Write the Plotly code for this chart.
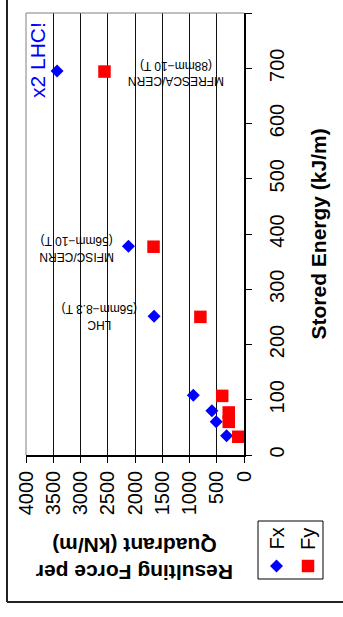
import plotly.graph_objects as go

# ---- data ----
energy_fx = [35, 60, 80, 108, 251, 378, 695]      # Stored energy (kJ/m)
fx = [320, 510, 590, 930, 1650, 2120, 3430]        # Fx (kN/m)
energy_fy = [33, 60, 77, 107, 250, 377, 694]
fy = [105, 280, 280, 400, 800, 1660, 2560]         # Fy (kN/m)
force_ticks = [0, 500, 1000, 1500, 2000, 2500, 3000, 3500, 4000]
energy_ticks = [0, 100, 200, 300, 400, 500, 600, 700, 800]

labels = ["MFRESCA/CERN<br>(88mm\u221210 T)", "MFISC/CERN<br>(56mm\u221210 T)", "LHC<br>(56mm\u22128.3 T)"]
label_force = [1248, 3064, 2642]
label_energy = [691, 374, 251]

W, H = 343, 617
FONT = "Liberation Sans, Arial, sans-serif"


def px(x):
    return x / W


def py(y):
    return 1 - y / H


fig = go.Figure()
fig.add_trace(go.Scatter(x=fx, y=energy_fx, mode="markers", name="Fx",
                         marker=dict(symbol="diamond", size=10, color="#0000FF"),
                         cliponaxis=False))
fig.add_trace(go.Scatter(x=fy, y=energy_fy, mode="markers", name="Fy",
                         marker=dict(symbol="square", size=12.5, color="#FF0000"),
                         cliponaxis=False))

# legend keys (drawn on a pixel-space helper axis)
fig.add_trace(go.Scatter(x=[276.5], y=[566], mode="markers", xaxis="x2", yaxis="y2",
                         marker=dict(symbol="diamond", size=10, color="#0000FF"),
                         hoverinfo="skip", cliponaxis=False))
fig.add_trace(go.Scatter(x=[308], y=[566], mode="markers", xaxis="x2", yaxis="y2",
                         marker=dict(symbol="square", size=12.5, color="#FF0000"),
                         hoverinfo="skip", cliponaxis=False))

annotations = []
for t, xv, yv in zip(labels, label_force, label_energy):
    annotations.append(dict(x=xv, y=yv, xref="x", yref="y", text=t, showarrow=False,
                            textangle=180, font=dict(family=FONT, size=12, color="black"),
                            xanchor="center", yanchor="middle"))
annotations.append(dict(x=3789, y=714, xref="x", yref="y", text="x2 LHC!", showarrow=False,
                        textangle=-90, font=dict(family=FONT, size=21, color="#0000FF"),
                        xanchor="center", yanchor="middle"))
annotations.append(dict(x=px(318), y=py(234.5), xref="paper", yref="paper",
                        text="<b>Stored Energy (kJ/m)</b>", showarrow=False, textangle=-90,
                        font=dict(family=FONT, size=21, color="black"),
                        xanchor="center", yanchor="middle"))
annotations.append(dict(x=px(135), y=py(559), xref="paper", yref="paper",
                        text="<b>Resulting Force per<br>Quadrant (kN/m)</b>", showarrow=False,
                        textangle=180, font=dict(family=FONT, size=21, color="black"),
                        xanchor="center", yanchor="middle"))
annotations.append(dict(x=px(276.5), y=py(539), xref="paper", yref="paper", text="Fx",
                        showarrow=False, textangle=-90, font=dict(family=FONT, size=20, color="black"),
                        xanchor="center", yanchor="middle"))
annotations.append(dict(x=px(308), y=py(539), xref="paper", yref="paper", text="Fy",
                        showarrow=False, textangle=-90, font=dict(family=FONT, size=20, color="black"),
                        xanchor="center", yanchor="middle"))

shapes = [
    # legend box
    dict(type="rect", xref="paper", yref="paper", x0=px(258), x1=px(323), y0=py(579), y1=py(521),
         line=dict(color="black", width=1), fillcolor="rgba(0,0,0,0)", layer="below"),
    # outer frame (left and bottom)
    dict(type="line", xref="paper", yref="paper", x0=px(7), x1=px(7), y0=py(602), y1=1.05,
         line=dict(color="#222", width=2)),
    dict(type="line", xref="paper", yref="paper", x0=px(7), x1=1.05, y0=py(602), y1=py(602),
         line=dict(color="#222", width=2)),
    # plot area border (top & left, gray)
    dict(type="line", xref="paper", yref="paper", x0=px(26), x1=px(244), y0=py(13), y1=py(13),
         line=dict(color="#808080", width=1)),
    dict(type="line", xref="paper", yref="paper", x0=px(26), x1=px(26), y0=py(13), y1=py(455),
         line=dict(color="#808080", width=1)),
]

fig.update_layout(
    width=W, height=H,
    margin=dict(l=0, r=0, t=0, b=0, autoexpand=False),
    paper_bgcolor="white", plot_bgcolor="rgba(0,0,0,0)",
    showlegend=False,
    font=dict(family=FONT, color="black"),
    xaxis=dict(domain=[px(26), px(244)], range=[4000, 0], tickvals=force_ticks,
               ticktext=[str(v) for v in force_ticks], tickangle=-90,
               tickfont=dict(size=20, family=FONT, color="black"),
               ticks="outside", ticklen=6, tickcolor="black",
               showgrid=True, gridcolor="#111", gridwidth=1, zeroline=False,
               showline=True, linecolor="black", linewidth=1.5, automargin=False,
               anchor="y", side="bottom"),
    yaxis=dict(domain=[py(455), py(13)], range=[0, 800], tickvals=energy_ticks,
               ticktext=[str(v) for v in energy_ticks], tickangle=-90,
               tickfont=dict(size=20, family=FONT, color="black"),
               ticks="outside", ticklen=6, tickcolor="black", ticklabelstandoff=8,
               showgrid=False, zeroline=False, side="right",
               showline=True, linecolor="black", linewidth=1.5, automargin=False,
               anchor="x"),
    xaxis2=dict(domain=[0, 1], range=[0, W], visible=False, anchor="y2", fixedrange=True),
    yaxis2=dict(domain=[0, 1], range=[H, 0], visible=False, anchor="x2", fixedrange=True),
    annotations=annotations,
    shapes=shapes,
)

fig.write_html("out.html", config={"displayModeBar": False},
               post_script="document.body.style.margin='0px';document.body.style.overflow='hidden';")
